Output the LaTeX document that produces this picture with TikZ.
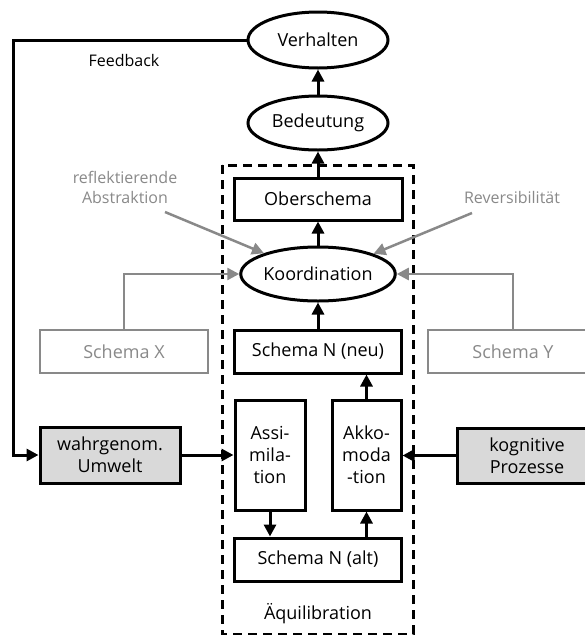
\documentclass[tikz,border=0pt]{standalone}
\usepackage{fontspec}
\setmainfont{Open Sans}
\usetikzlibrary{shapes.geometric,arrows.meta}
\definecolor{lgray}{HTML}{898989}
\definecolor{boxfill}{HTML}{D9D9D9}
\tikzset{
  base/.style={font=\fontsize{18}{22}\selectfont, align=center, inner sep=0pt},
  oval/.style={base, ellipse, draw, line width=3pt},
  blackbox/.style={base, rectangle, draw, line width=3pt},
  graybox/.style={base, rectangle, draw=lgray, line width=2.5pt, text=lgray},
  inputbox/.style={blackbox, fill=boxfill},
  note/.style={base, font=\fontsize{16}{20}\selectfont},
  arr/.style={line width=3pt, -{Triangle[length=12pt,width=12pt]}},
  grayarr/.style={line width=2.5pt, draw=lgray, -{Triangle[length=12pt,width=12pt,fill=lgray]}},
  frame/.style={line width=3pt, dash pattern=on 9pt off 6pt}
}
\begin{document}
\begin{tikzpicture}[x=1pt,y=-1pt]
\useasboundingbox (0,0) rectangle (585,635);
\clip (0,0) rectangle (585,635);

% equilibration frame
\draw[frame] (222,165) rectangle (413,634);

% central column
\node[oval, minimum width=140pt, minimum height=56pt] (verh) at (318,40) {Verhalten};
\node[oval, minimum width=140pt, minimum height=54pt] (bed) at (318,123) {Bedeutung};
\node[blackbox, minimum width=168pt, minimum height=42pt] (ober) at (318,199) {Oberschema};
\node[oval, minimum width=138pt, minimum height=54pt] (koord) at (318,274) {Koordination};
\node[blackbox, minimum width=167pt, minimum height=43pt] (neu) at (318,351.5) {Schema N (neu)};
\node[blackbox, minimum width=70pt, minimum height=110pt] (assim) at (270,455) {Assi-\\mila-\\tion};
\node[blackbox, minimum width=69pt, minimum height=110pt] (akko) at (366.5,455) {Akko-\\moda\\-tion};
\node[blackbox, minimum width=167pt, minimum height=43pt] (alt) at (318,559.5) {Schema N (alt)};
\node[base] (aequi) at (318,614) {Äquilibration};

% side schemas and inputs
\node[graybox, minimum width=168pt, minimum height=43pt] (sx) at (124,351.5) {Schema X};
\node[graybox, minimum width=170pt, minimum height=43pt] (sy) at (513,351.5) {Schema Y};
\node[inputbox, minimum width=140pt, minimum height=56pt] (umwelt) at (110,455) {wahrgenom.\\Umwelt};
\node[inputbox, minimum width=140pt, minimum height=55pt] (kogn) at (527,455.5) {kognitive\\Prozesse};

% labels
\node[note] (fb) at (124,60) {Feedback};
\node[note, text=lgray] (refl) at (125,187) {reflektierende\\Abstraktion};
\node[note, text=lgray] (rev) at (512,197) {Reversibilität};
\coordinate (reflend) at (165,212);
\coordinate (revend) at (472,213);
\coordinate (fbtop) at (13,40);
\coordinate (fbbot) at (13,455);

% connectors
\draw[arr] (bed) -- (verh);
\draw[arr] (ober) -- (bed);
\draw[arr] (koord) -- (ober);
\draw[arr] (neu) -- (koord);
\draw[arr] (akko.north) -- (neu.south -| akko.north);
\draw[arr] (assim.south) -- (alt.north -| assim.south);
\draw[arr] (alt.north -| akko.south) -- (akko.south);
\draw[arr] (umwelt.east) -- (assim.west |- umwelt.east);
\draw[arr] (kogn.west) -- (akko.east |- kogn.west);
\draw[arr] (verh.west) -- (fbtop) -- (fbbot) -- (umwelt.west);

\draw[grayarr] (sx.north) |- (koord.west);
\draw[grayarr] (sy.north) |- (koord.east);
\draw[grayarr] (reflend) -- (koord.159);
\draw[grayarr] (revend) -- (koord.20);
\end{tikzpicture}
\end{document}
